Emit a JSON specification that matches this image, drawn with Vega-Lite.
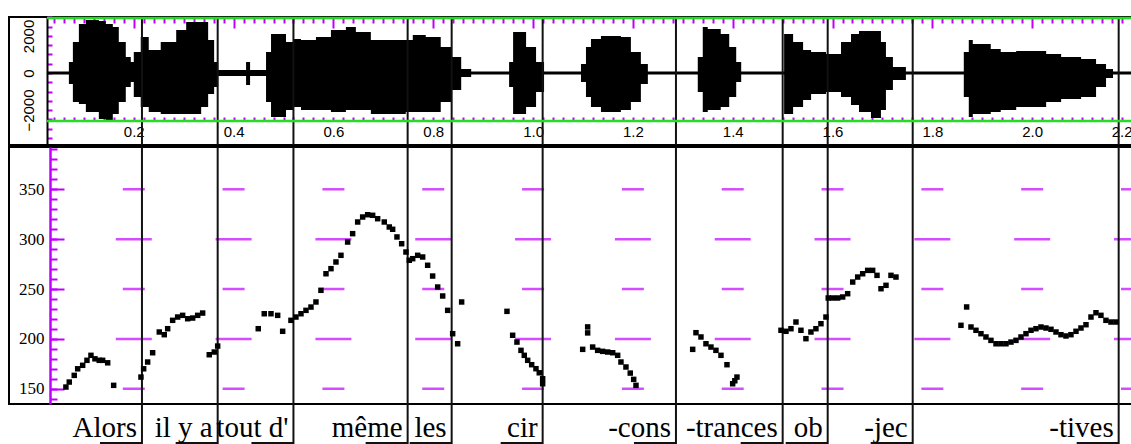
{
 "$schema": "https://vega.github.io/schema/vega-lite/v6.json",
 "padding": {"left": 8, "top": 15, "right": 0, "bottom": 0},
 "background": "white",
 "config": {"view": {"stroke": "black", "strokeWidth": 2}, "axis": {"minExtent": 0}},
 "datasets": {
  "wave": [
   {"t":0.026,"hi":81,"lo":-81},{"t":0.070,"hi":594,"lo":-594},{"t":0.078,"hi":1674,"lo":-1566},{"t":0.090,"hi":2646,"lo":-1674},
   {"t":0.104,"hi":2862,"lo":-2106},{"t":0.130,"hi":2808,"lo":-2484},{"t":0.144,"hi":2646,"lo":-2538},{"t":0.158,"hi":2484,"lo":-2214},
   {"t":0.170,"hi":1674,"lo":-1566},{"t":0.184,"hi":864,"lo":-756},{"t":0.194,"hi":594,"lo":-486},{"t":0.200,"hi":1134,"lo":-1296},
   {"t":0.214,"hi":1944,"lo":-1836},{"t":0.230,"hi":1242,"lo":-2106},{"t":0.254,"hi":1674,"lo":-2214},{"t":0.285,"hi":2322,"lo":-2214},
   {"t":0.305,"hi":2754,"lo":-2214},{"t":0.335,"hi":2754,"lo":-1836},{"t":0.349,"hi":1782,"lo":-1134},{"t":0.361,"hi":594,"lo":-756},
   {"t":0.369,"hi":162,"lo":-162},{"t":0.425,"hi":594,"lo":-648},{"t":0.433,"hi":162,"lo":-162},{"t":0.465,"hi":1134,"lo":-1566},
   {"t":0.475,"hi":2106,"lo":-2376},{"t":0.505,"hi":1674,"lo":-1998},{"t":0.519,"hi":1836,"lo":-1836},{"t":0.535,"hi":1782,"lo":-1998},
   {"t":0.565,"hi":1944,"lo":-1998},{"t":0.595,"hi":2322,"lo":-2106},{"t":0.625,"hi":2484,"lo":-1998},{"t":0.645,"hi":2214,"lo":-1998},
   {"t":0.675,"hi":1782,"lo":-2214},{"t":0.745,"hi":1782,"lo":-2106},{"t":0.759,"hi":2052,"lo":-2106},{"t":0.785,"hi":1944,"lo":-2106},
   {"t":0.815,"hi":1404,"lo":-1566},{"t":0.836,"hi":864,"lo":-918},{"t":0.856,"hi":216,"lo":-216},{"t":0.876,"hi":81,"lo":-81},
   {"t":0.952,"hi":594,"lo":-756},{"t":0.960,"hi":2214,"lo":-2214},{"t":0.986,"hi":1404,"lo":-1836},{"t":1.006,"hi":594,"lo":-1026},
   {"t":1.022,"hi":81,"lo":-81},{"t":1.096,"hi":486,"lo":-486},{"t":1.106,"hi":1404,"lo":-1296},{"t":1.116,"hi":1836,"lo":-1836},
   {"t":1.136,"hi":1998,"lo":-2106},{"t":1.176,"hi":1944,"lo":-1998},{"t":1.196,"hi":1134,"lo":-1566},{"t":1.216,"hi":486,"lo":-594},
   {"t":1.230,"hi":81,"lo":-81},{"t":1.330,"hi":864,"lo":-1026},{"t":1.340,"hi":2484,"lo":-2106},{"t":1.350,"hi":2376,"lo":-1998},
   {"t":1.376,"hi":2106,"lo":-1836},{"t":1.393,"hi":1404,"lo":-1296},{"t":1.407,"hi":594,"lo":-486},{"t":1.417,"hi":81,"lo":-81},
   {"t":1.503,"hi":2106,"lo":-2214},{"t":1.521,"hi":1674,"lo":-1836},{"t":1.541,"hi":1242,"lo":-1458},{"t":1.557,"hi":1134,"lo":-1134},
   {"t":1.587,"hi":1026,"lo":-1026},{"t":1.617,"hi":1674,"lo":-1296},{"t":1.637,"hi":2106,"lo":-1728},{"t":1.653,"hi":2268,"lo":-2106},
   {"t":1.677,"hi":2268,"lo":-2430},{"t":1.697,"hi":1674,"lo":-1998},{"t":1.707,"hi":864,"lo":-918},{"t":1.721,"hi":324,"lo":-378},
   {"t":1.747,"hi":81,"lo":-81},{"t":1.863,"hi":1134,"lo":-1296},{"t":1.873,"hi":1782,"lo":-2376},{"t":1.881,"hi":1566,"lo":-2214},
   {"t":1.917,"hi":1296,"lo":-2106},{"t":1.937,"hi":1134,"lo":-1998},{"t":1.968,"hi":1188,"lo":-1836},{"t":2.028,"hi":1026,"lo":-1566},
   {"t":2.058,"hi":864,"lo":-1404},{"t":2.098,"hi":756,"lo":-1296},{"t":2.128,"hi":486,"lo":-756},{"t":2.148,"hi":216,"lo":-270},
   {"t":2.162,"hi":81,"lo":-81},{"t":2.2,"hi":81,"lo":-81}
  ],
  "pitch": [
   {"t":0.064,"f":151.7},{"t":0.0707,"f":156.7},{"t":0.0807,"f":163.4},{"t":0.0876,"f":170},{"t":0.0976,"f":173.5},{"t":0.1062,"f":178.5},
   {"t":0.1142,"f":183.5},{"t":0.1222,"f":180},{"t":0.1308,"f":178.5},{"t":0.1376,"f":178.5},{"t":0.1477,"f":176},{"t":0.1597,"f":153.4},
   {"t":0.2144,"f":161.7},{"t":0.2198,"f":170},{"t":0.2278,"f":176.8},{"t":0.2378,"f":186.1},{"t":0.2511,"f":206.9},{"t":0.2611,"f":204.2},
   {"t":0.2679,"f":210.2},{"t":0.2779,"f":218.6},{"t":0.2879,"f":221.9},{"t":0.2979,"f":223.6},{"t":0.308,"f":220.2},{"t":0.318,"f":220.9},
   {"t":0.328,"f":223.6},{"t":0.338,"f":225.9},{"t":0.3512,"f":184.1},{"t":0.3613,"f":186.8},{"t":0.3681,"f":192.8},
   {"t":0.4494,"f":210.2},{"t":0.4614,"f":225.2},{"t":0.4749,"f":225.2},{"t":0.4883,"f":223.6},{"t":0.4983,"f":207.6},
   {"t":0.5149,"f":218.6},{"t":0.5249,"f":221.9},{"t":0.535,"f":225.2},{"t":0.545,"f":228.6},{"t":0.555,"f":231.9},{"t":0.565,"f":237},
   {"t":0.575,"f":248.7},{"t":0.5851,"f":265.3},{"t":0.5951,"f":270.4},{"t":0.6051,"f":277.1},{"t":0.6151,"f":283.8},{"t":0.6285,"f":297.1},
   {"t":0.6385,"f":305.5},{"t":0.6486,"f":317.2},{"t":0.6586,"f":322.2},{"t":0.6686,"f":324.5},{"t":0.6786,"f":323.9},{"t":0.6886,"f":320.5},
   {"t":0.7019,"f":317.2},{"t":0.7119,"f":312.2},{"t":0.7187,"f":309.9},{"t":0.7273,"f":302.2},{"t":0.7367,"f":295.4},{"t":0.7453,"f":287.1},
   {"t":0.752,"f":278.8},{"t":0.7588,"f":280.4},{"t":0.7688,"f":283.8},{"t":0.7788,"f":282.1},{"t":0.7888,"f":273.8},{"t":0.7988,"f":263},
   {"t":0.8089,"f":252},{"t":0.8189,"f":243},{"t":0.8289,"f":228.6},{"t":0.8389,"f":205.2},{"t":0.8489,"f":195.1},{"t":0.8569,"f":237},
   {"t":0.9477,"f":227.6},{"t":0.9591,"f":203.6},{"t":0.9677,"f":196.8},{"t":0.9758,"f":188.5},{"t":0.9824,"f":183.5},{"t":0.9892,"f":178.5},
   {"t":0.9972,"f":174.1},{"t":1.0058,"f":170.1},{"t":1.0124,"f":166},{"t":1.0192,"f":160},{"t":1.0192,"f":155},
   {"t":1.0994,"f":189.5},{"t":1.1094,"f":206},{"t":1.1094,"f":212},{"t":1.1194,"f":191.8},{"t":1.1294,"f":188.5},{"t":1.1394,"f":187.5},
   {"t":1.1495,"f":186.8},{"t":1.1595,"f":186.1},{"t":1.1695,"f":183.5},{"t":1.1761,"f":176.8},{"t":1.1861,"f":171.8},{"t":1.1947,"f":165.7},
   {"t":1.2016,"f":159.4},{"t":1.2062,"f":153.4},
   {"t":1.3198,"f":189.5},{"t":1.3264,"f":206.2},{"t":1.3364,"f":201.9},{"t":1.3464,"f":195.1},{"t":1.3564,"f":191.8},{"t":1.3664,"f":188.5},
   {"t":1.3765,"f":183.5},{"t":1.3885,"f":174.1},{"t":1.3999,"f":155},{"t":1.4042,"f":158},{"t":1.4085,"f":161.7},
   {"t":1.4967,"f":208.6},{"t":1.5067,"f":207.6},{"t":1.5167,"f":210.2},{"t":1.5267,"f":216.9},{"t":1.5367,"f":208.6},{"t":1.5467,"f":200.2},
   {"t":1.5567,"f":206.9},{"t":1.5667,"f":210.2},{"t":1.5768,"f":215.2},{"t":1.5868,"f":221.9},
   {"t":1.5914,"f":241},{"t":1.6003,"f":241},{"t":1.6103,"f":241},{"t":1.6203,"f":242},{"t":1.6303,"f":245.3},{"t":1.6404,"f":257},
   {"t":1.6504,"f":262},{"t":1.6604,"f":265.3},{"t":1.6704,"f":268.7},{"t":1.6804,"f":268.7},{"t":1.6891,"f":263.7},{"t":1.6971,"f":250.3},
   {"t":1.7071,"f":253.7},{"t":1.7171,"f":263.7},{"t":1.7271,"f":262},
   {"t":1.8573,"f":213.6},{"t":1.8687,"f":232},{"t":1.8774,"f":211.9},{"t":1.8874,"f":208.6},{"t":1.8974,"f":205.2},{"t":1.9074,"f":201.9},
   {"t":1.9174,"f":198.5},{"t":1.9275,"f":195.1},{"t":1.9375,"f":195.1},{"t":1.9475,"f":195.1},{"t":1.9575,"f":196.8},{"t":1.9675,"f":198.5},
   {"t":1.9776,"f":201.9},{"t":1.9876,"f":205.2},{"t":1.9976,"f":208.6},{"t":2.0076,"f":210.2},{"t":2.0176,"f":211.9},{"t":2.0276,"f":210.9},
   {"t":2.0377,"f":209.6},{"t":2.0477,"f":206.9},{"t":2.0577,"f":204.2},{"t":2.0677,"f":202.9},{"t":2.0777,"f":204.2},{"t":2.0878,"f":207.6},
   {"t":2.0978,"f":210.9},{"t":2.1078,"f":214.2},{"t":2.1178,"f":221.9},{"t":2.1278,"f":226.2},{"t":2.1378,"f":223.6},{"t":2.1478,"f":218.6},
   {"t":2.1579,"f":216.9},{"t":2.1679,"f":216.9}
  ],
  "bounds": [
   {"b":0.2164,"syl":"Alors"},{"b":0.3681,"syl":"il y a"},{"b":0.5199,"syl":"tout d'"},{"b":0.7487,"syl":"même"},
   {"b":0.8369,"syl":"les"},{"b":1.0192,"syl":"cir"},{"b":1.2863,"syl":"-cons"},{"b":1.5001,"syl":"-trances"},
   {"b":1.5903,"syl":"ob"},{"b":1.7606,"syl":"-jec"},{"b":2.1733,"syl":"-tives"}
  ],
  "frame": [
   {"t0":0.026,"t1":2.2,"hi":2970},{"t0":0.026,"t1":2.2,"hi":-2592}
  ],
  "dash": [
   {"t":0.2,"f":150},{"t":0.2,"f":200},{"t":0.2,"f":250},{"t":0.2,"f":300},{"t":0.2,"f":350},
   {"t":0.4,"f":150},{"t":0.4,"f":200},{"t":0.4,"f":250},{"t":0.4,"f":300},{"t":0.4,"f":350},
   {"t":0.6,"f":150},{"t":0.6,"f":200},{"t":0.6,"f":250},{"t":0.6,"f":300},{"t":0.6,"f":350},
   {"t":0.8,"f":150},{"t":0.8,"f":200},{"t":0.8,"f":250},{"t":0.8,"f":300},{"t":0.8,"f":350},
   {"t":1.0,"f":150},{"t":1.0,"f":200},{"t":1.0,"f":250},{"t":1.0,"f":300},{"t":1.0,"f":350},
   {"t":1.2,"f":150},{"t":1.2,"f":200},{"t":1.2,"f":250},{"t":1.2,"f":300},{"t":1.2,"f":350},
   {"t":1.4,"f":150},{"t":1.4,"f":200},{"t":1.4,"f":250},{"t":1.4,"f":300},{"t":1.4,"f":350},
   {"t":1.6,"f":150},{"t":1.6,"f":200},{"t":1.6,"f":250},{"t":1.6,"f":300},{"t":1.6,"f":350},
   {"t":1.8,"f":150},{"t":1.8,"f":200},{"t":1.8,"f":250},{"t":1.8,"f":300},{"t":1.8,"f":350},
   {"t":2.0,"f":150},{"t":2.0,"f":200},{"t":2.0,"f":250},{"t":2.0,"f":300},{"t":2.0,"f":350},
   {"t":2.2,"f":150},{"t":2.2,"f":200},{"t":2.2,"f":250},{"t":2.2,"f":300},{"t":2.2,"f":350}
  ]
 },
 "spacing": 2,
 "bounds": "flush",
 "vconcat": [
  {
   "width": 1123, "height": 128,
   "layer": [
    {
     "data": {"name": "wave"},
     "mark": {"type": "area", "interpolate": "step-after", "color": "black"},
     "encoding": {
      "x": {"field": "t", "type": "quantitative",
            "scale": {"domain": [-0.05, 2.2], "nice": false, "zero": false},
            "axis": {"orient": "bottom", "offset": -24, "title": null, "tickCount": 110, "grid": false, "domain": false,
                     "tickColor": "#c000ff", "tickWidth": 2, "tickSize": -4,
                     "tickOpacity": {"condition": {"test": "datum.value < 0.03", "value": 0}, "value": 1},
                     "labelExpr": "(abs(datum.value*5 - round(datum.value*5)) < 0.001 && datum.value > 0.1) ? format(datum.value, '.1f') : ''",
                     "labelAlign": {"condition": {"test": "datum.value > 2.19", "value": "right"}, "value": "center"},
                     "labelFont": "Liberation Sans", "labelFontSize": 15, "labelColor": "black",
                     "labelPadding": 7, "labelFlush": false, "labelOverlap": false}},
      "y": {"field": "hi", "type": "quantitative",
            "scale": {"domain": [-3888, 3024], "nice": false, "zero": false},
            "axis": {"orient": "left", "offset": -38, "title": null, "tickCount": 17, "format": "d", "grid": false,
                     "labelExpr": "(datum.value == 2000 || datum.value == 0 || datum.value == -2000) ? datum.label : ''",
                     "labelAngle": -90, "labelAlign": "center", "labelBaseline": "bottom", "labelPadding": 16,
                     "labelFont": "Liberation Sans", "labelFontSize": 15, "labelColor": "black", "labelOverlap": false,
                     "domain": true, "domainColor": "black", "domainWidth": 2,
                     "tickColor": "#c000ff", "tickWidth": 2, "tickSize": -5}},
      "y2": {"field": "lo"}
     }
    },
    {
     "data": {"name": "bounds"},
     "mark": {"type": "rule", "color": "#111111", "strokeWidth": 2},
     "encoding": {
      "x": {"field": "b", "type": "quantitative",
            "scale": {"domain": [-0.05, 2.2], "nice": false, "zero": false},
            "axis": {"orient": "top", "offset": -1, "title": null, "tickCount": 110, "labels": false, "grid": false, "domain": false,
                     "tickColor": "#c000ff", "tickWidth": 2,
                     "tickOpacity": {"condition": {"test": "datum.value < 0.03", "value": 0}, "value": 1},
                     "tickSize": {"condition": {"test": "abs(datum.value*5 - round(datum.value*5)) < 0.001", "value": -10}, "value": -5}}}
     }
    },
    {
     "data": {"name": "frame"},
     "mark": {"type": "rule", "color": "#22dd22", "strokeWidth": 2.5},
     "encoding": {
      "x": {"field": "t0", "type": "quantitative", "scale": {"domain": [-0.05, 2.2], "nice": false, "zero": false}, "axis": null},
      "x2": {"field": "t1"},
      "y": {"field": "hi", "type": "quantitative"}
     }
    }
   ],
   "resolve": {"axis": {"x": "independent"}}
  },
  {
   "width": 1123, "height": 257,
   "layer": [
    {
     "data": {"name": "dash"},
     "mark": {"type": "tick", "orient": "horizontal", "color": "#c000ff", "thickness": 2.5},
     "encoding": {
      "x": {"field": "t", "type": "quantitative", "scale": {"domain": [-0.05, 2.2], "nice": false, "zero": false}, "axis": null},
      "y": {"field": "f", "type": "quantitative", "scale": {"domain": [134.7, 392.4], "nice": false, "zero": false},
            "axis": {"orient": "left", "offset": -41, "title": null, "tickCount": 26, "grid": false, "labels": false,
                     "domainColor": "#c000ff", "domainWidth": 2.5, "tickColor": "#c000ff", "tickWidth": 2, "tickSize": -7}},
      "size": {"condition": {"test": "datum.f % 100 == 0", "value": 36}, "value": 22}
     }
    },
    {
     "data": {"name": "bounds"},
     "mark": {"type": "rule", "color": "#111111", "strokeWidth": 2},
     "encoding": {
      "x": {"field": "b", "type": "quantitative", "scale": {"domain": [-0.05, 2.2], "nice": false, "zero": false}, "axis": null}
     }
    },
    {
     "data": {"name": "pitch"},
     "mark": {"type": "square", "filled": true, "color": "black", "size": 30, "opacity": 1},
     "encoding": {
      "x": {"field": "t", "type": "quantitative", "scale": {"domain": [-0.05, 2.2], "nice": false, "zero": false}, "axis": null},
      "y": {"field": "f", "type": "quantitative", "scale": {"domain": [134.7, 392.4], "nice": false, "zero": false},
            "axis": {"orient": "left", "offset": -41, "title": null, "values": [150, 200, 250, 300, 350], "grid": false,
                     "domain": false, "tickColor": "#c000ff", "tickWidth": 2, "tickSize": -14,
                     "labelPadding": 20, "labelFont": "Liberation Serif", "labelFontSize": 17, "labelColor": "black"}}
     }
    }
   ],
   "resolve": {"axis": {"y": "independent"}}
  },
  {
   "width": 1123, "height": 40,
   "view": {"stroke": null},
   "data": {"name": "bounds"},
   "encoding": {
    "x": {"field": "b", "type": "quantitative", "scale": {"domain": [-0.05, 2.2], "nice": false, "zero": false}, "axis": null}
   },
   "layer": [
    {"mark": {"type": "rule", "color": "#111111", "strokeWidth": 2, "y": 0, "yOffset": -2, "y2": "height", "y2Offset": -2}},
    {"mark": {"type": "rule", "color": "#111111", "strokeWidth": 2, "y": "height", "yOffset": -3, "x2Offset": -42},
     "encoding": {"x2": {"field": "b"}}},
    {"mark": {"type": "text", "align": "right", "baseline": "alphabetic", "dx": -5, "y": "height", "dy": -9,
              "font": "Liberation Serif", "fontSize": 29, "color": "black"},
     "encoding": {"text": {"field": "syl"}}}
   ]
  }
 ]
}
